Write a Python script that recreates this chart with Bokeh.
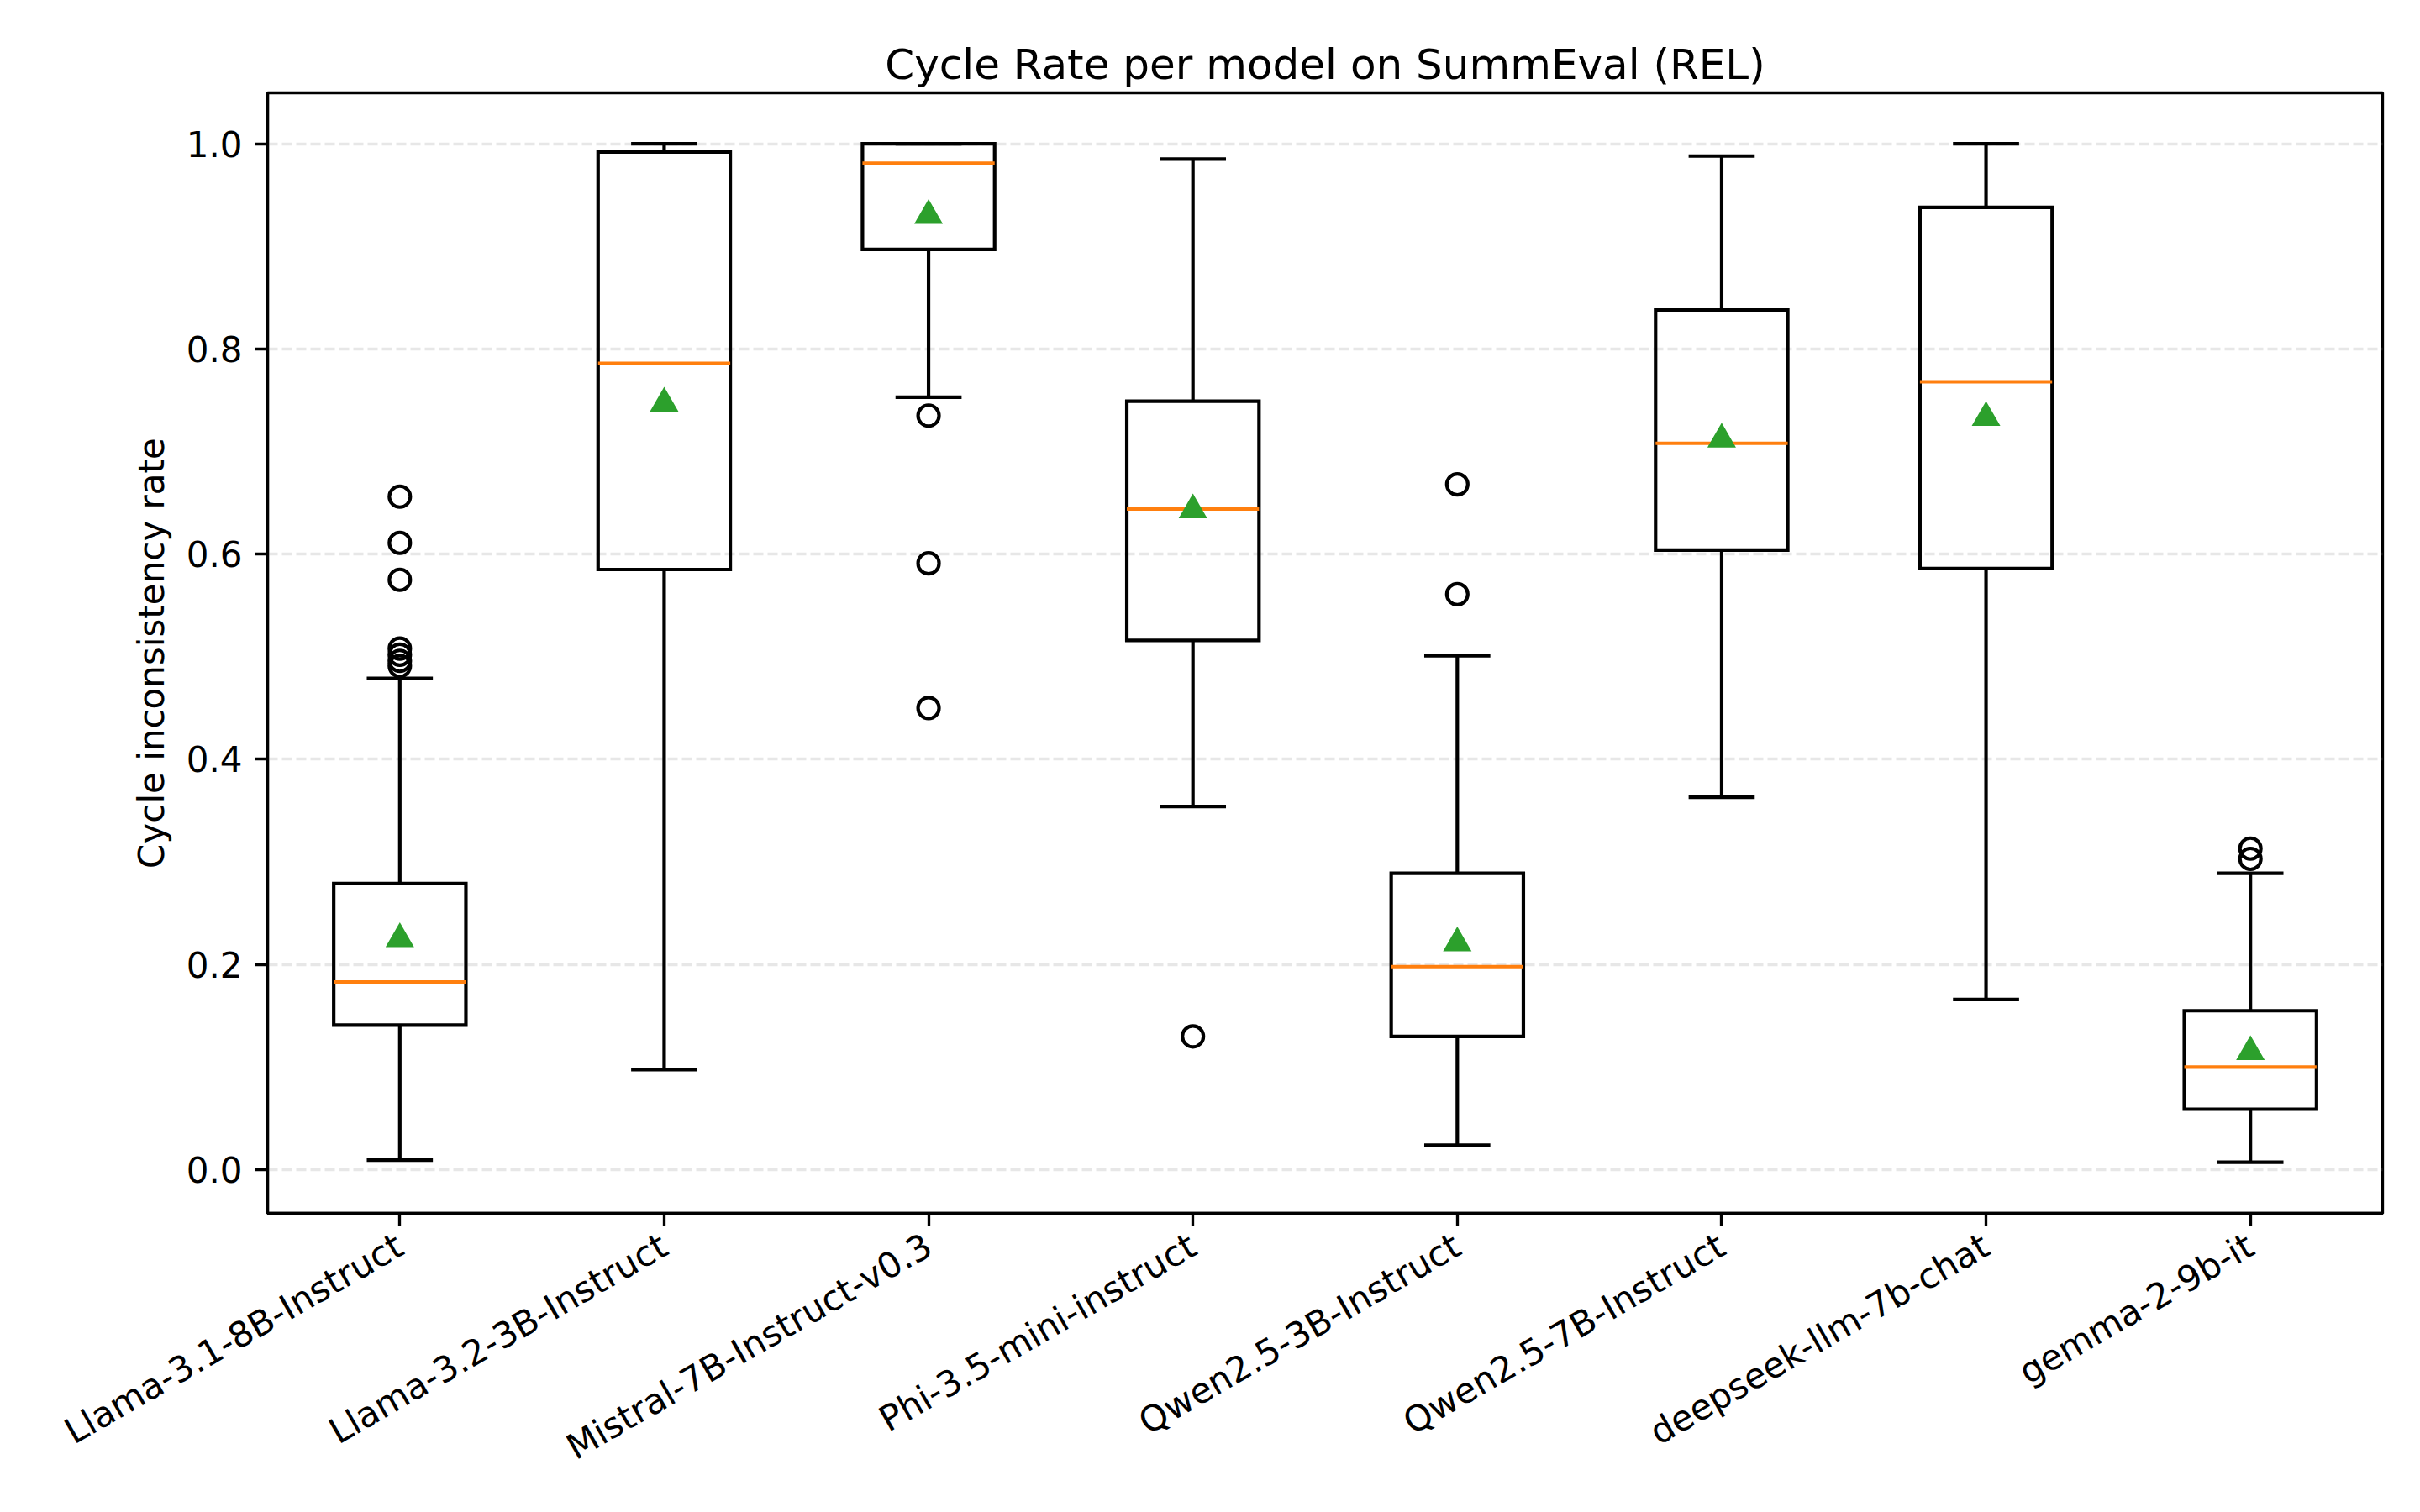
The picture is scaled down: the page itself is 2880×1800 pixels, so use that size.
from math import pi
from bokeh.plotting import figure
from bokeh.models import FixedTicker, PrintfTickFormatter, Range1d
from bokeh.embed import file_html
from bokeh.resources import INLINE

# ---- data ----
models = ["Llama-3.1-8B-Instruct", "Llama-3.2-3B-Instruct", "Mistral-7B-Instruct-v0.3",
          "Phi-3.5-mini-instruct", "Qwen2.5-3B-Instruct", "Qwen2.5-7B-Instruct",
          "deepseek-llm-7b-chat", "gemma-2-9b-it"]
q1 = [0.141, 0.585, 0.897, 0.516, 0.130, 0.604, 0.586, 0.059]
median = [0.183, 0.786, 0.981, 0.644, 0.198, 0.708, 0.768, 0.100]
q3 = [0.279, 0.992, 1.000, 0.749, 0.289, 0.838, 0.938, 0.155]
mean = [0.225, 0.747, 0.930, 0.643, 0.221, 0.712, 0.733, 0.115]
whisker_low = [0.0094, 0.0976, 0.753, 0.354, 0.024, 0.363, 0.166, 0.0074]
whisker_high = [0.479, 1.000, 1.000, 0.985, 0.501, 0.988, 1.000, 0.289]
outliers = [[0.656, 0.611, 0.575, 0.508, 0.502, 0.496, 0.491],
            [],
            [0.735, 0.591, 0.450],
            [0.130],
            [0.668, 0.561],
            [],
            [],
            [0.313, 0.303]]
y_ticks = [0.0, 0.2, 0.4, 0.6, 0.8, 1.0]

FONT = "DejaVu Sans"
LW = 4.17       # 1pt at 300 dpi
SPINE = 3.33    # 0.8pt at 300 dpi

pos = list(range(1, len(models) + 1))
box_w = 0.5
cap_w = 0.25

p = figure(frame_width=2517, frame_height=1334,
           min_border_left=318, min_border_right=25,
           min_border_top=110, min_border_bottom=334,
           x_range=Range1d(0.5, 8.5), y_range=Range1d(-0.0425, 1.0496),
           output_backend="svg", toolbar_location=None,
           title="Cycle Rate per model on SummEval (REL)")

p.background_fill_color = "white"
p.border_fill_color = "white"
p.outline_line_color = "black"
p.outline_line_width = SPINE

p.title.text_font = FONT
p.title.text_font_size = "50px"
p.title.text_font_style = "normal"
p.title.align = "center"
p.title.text_color = "black"
p.title.standoff = 9

# grid
p.xgrid.grid_line_color = None
p.ygrid.ticker = FixedTicker(ticks=y_ticks)
p.ygrid.grid_line_color = "#b0b0b0"
p.ygrid.grid_line_alpha = 0.3
p.ygrid.grid_line_width = SPINE
p.ygrid.grid_line_dash = "12 5"

# axes
for ax in (p.xaxis[0], p.yaxis[0]):
    ax.axis_line_color = "black"
    ax.axis_line_width = SPINE
    ax.major_tick_line_color = "black"
    ax.major_tick_line_width = SPINE
    ax.major_tick_out = 15
    ax.major_tick_in = 0
    ax.minor_tick_out = 0
    ax.minor_tick_in = 0
    ax.major_label_text_font = FONT
    ax.major_label_text_font_size = "42px"
    ax.major_label_text_color = "black"
    ax.major_label_standoff = 15

p.xaxis.ticker = FixedTicker(ticks=pos)
p.xaxis.major_label_overrides = {i: m for i, m in zip(pos, models)}
p.xaxis.major_label_orientation = pi / 6
p.xaxis.major_label_standoff = 20

p.yaxis.ticker = FixedTicker(ticks=y_ticks)
p.yaxis.formatter = PrintfTickFormatter(format="%.1f")
p.yaxis.axis_label = "Cycle inconsistency rate"
p.yaxis.axis_label_text_font = FONT
p.yaxis.axis_label_text_font_size = "42px"
p.yaxis.axis_label_text_font_style = "normal"
p.yaxis.axis_label_text_color = "black"
p.yaxis.axis_label_standoff = 14

# whiskers
p.segment(x0=pos, y0=q1, x1=pos, y1=whisker_low, line_color="black", line_width=LW)
p.segment(x0=pos, y0=q3, x1=pos, y1=whisker_high, line_color="black", line_width=LW)
# caps
p.segment(x0=[x - cap_w / 2 for x in pos], y0=whisker_low,
          x1=[x + cap_w / 2 for x in pos], y1=whisker_low, line_color="black", line_width=LW)
p.segment(x0=[x - cap_w / 2 for x in pos], y0=whisker_high,
          x1=[x + cap_w / 2 for x in pos], y1=whisker_high, line_color="black", line_width=LW)
# boxes
p.quad(left=[x - box_w / 2 for x in pos], right=[x + box_w / 2 for x in pos],
       bottom=q1, top=q3, fill_color=None, line_color="black", line_width=LW,
       line_join="miter")
# medians
p.segment(x0=[x - box_w / 2 for x in pos], y0=median,
          x1=[x + box_w / 2 for x in pos], y1=median, line_color="#ff7f0e", line_width=LW)
# fliers
fx, fy = [], []
for x, vals in zip(pos, outliers):
    for v in vals:
        fx.append(x)
        fy.append(v)
p.scatter(x=fx, y=fy, marker="circle", size=25, fill_color=None,
          line_color="black", line_width=LW)
# means
p.scatter(x=pos, y=mean, marker="triangle", size=34, fill_color="#2ca02c",
          line_color=None)

open("out.html", "w").write(file_html(p, INLINE))
